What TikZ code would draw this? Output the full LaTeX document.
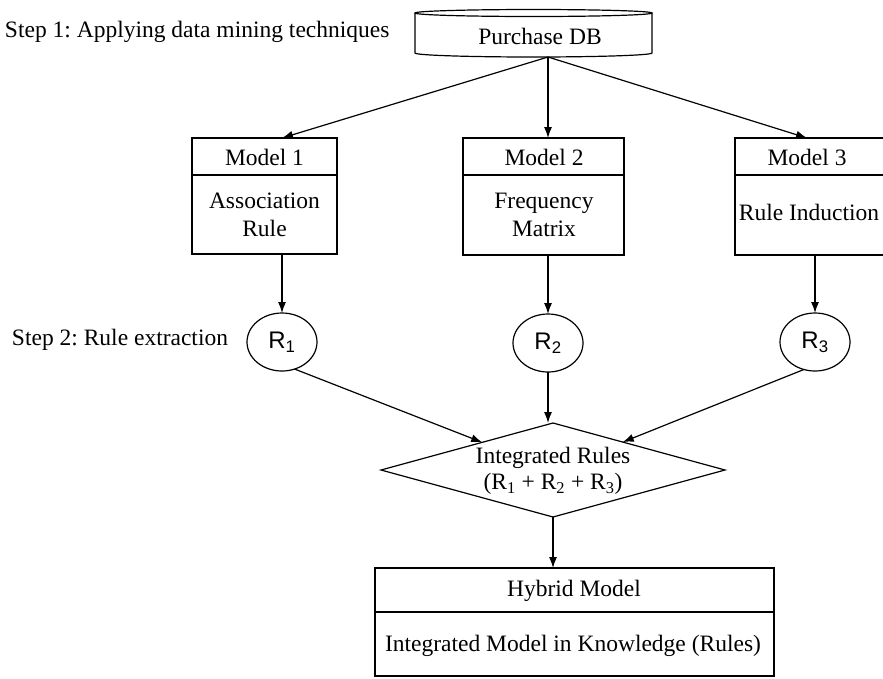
\documentclass[tikz,border=0pt]{standalone}
\usepackage{fontspec}
\setmainfont{Liberation Serif}
\newfontfamily\rfont{Liberation Sans}
\usetikzlibrary{shapes.geometric,arrows.meta,calc}
\frenchspacing
\begin{document}
\begin{tikzpicture}[x=1pt,y=-1pt,
  line width=1.2pt,
  every node/.style={font=\fontsize{23.5}{28}\selectfont, inner sep=0pt, outer sep=0pt},
  arr/.style={-{Latex[length=11pt,width=8pt]}},
  sepline/.style={line width=2.2pt},
  rnode/.style={draw, ellipse, minimum width=70pt, minimum height=58pt, font=\rfont\fontsize{24}{28}\selectfont},
  lbl/.style={anchor=base west}
]
\useasboundingbox (0,0) rectangle (883,678);

% Purchase DB cylinder
\draw (533.5,13) ellipse [x radius=118.5, y radius=3.5];
\draw (415,13) -- (415,53) arc[start angle=180, end angle=0, x radius=118.5, y radius=4] -- (652,13);
\node (db) at (540,36) {Purchase DB};
\coordinate (dbout) at (548,57);

% Step labels
\node[lbl] (s1) at (5,37) {Step 1: Applying data mining techniques};
\node[lbl] (s2) at (12,345) {Step 2: Rule extraction};

% Models
\node[draw, minimum width=145pt, minimum height=116pt] (m1) at (264.5,196) {};
\draw[sepline] ($(m1.north west)+(0,37)$) -- ($(m1.north east)+(0,37)$);
\node (m1h) at (264.5,157) {Model 1};
\node[align=center] (m1b) at (264.5,215) {Association\\Rule};

\node[draw, minimum width=161pt, minimum height=117pt] (m2) at (543.5,196.5) {};
\draw[sepline] ($(m2.north west)+(0,37)$) -- ($(m2.north east)+(0,37)$);
\node (m2h) at (544,157) {Model 2};
\node[align=center] (m2b) at (544,215) {Frequency\\Matrix};

\node[draw, minimum width=200pt, minimum height=117pt] (m3) at (835,196.5) {};
\draw[sepline] ($(m3.north west)+(0,37)$) -- ($(m3.north east)+(0,37)$);
\node (m3h) at (807,157) {Model 3};
\node (m3b) at (809,212) {Rule Induction};

% Rules
\node[rnode] (r1) at (282,342) {R\textsubscript{1}};
\node[rnode] (r2) at (548,343) {R\textsubscript{2}};
\node[rnode] (r3) at (815,342) {R\textsubscript{3}};

% Diamond
\node[draw, diamond, minimum width=344pt, minimum height=94pt] (dia) at (553,470) {};
\node[align=center, font=\fontsize{23.5}{26}\selectfont] (diat) at (553,471) {Integrated Rules\\(R\textsubscript{1} + R\textsubscript{2} + R\textsubscript{3})};

% Hybrid model
\node[draw, minimum width=399pt, minimum height=108pt] (hyb) at (574.5,622) {};
\draw ($(hyb.north west)+(0,44)$) -- ($(hyb.north east)+(0,44)$);
\node (hybh) at (574,591) {Hybrid Model};
\node (hybb) at (573,646) {Integrated Model in Knowledge (Rules)};

% Connectors
\draw[arr] (dbout) -- (r1 |- m1.north);
\draw[arr] (dbout) -- (dbout |- m2.north);
\draw[arr] (dbout) -- (m3h |- m3.north);
\draw[arr] (r1 |- m1.south) -- (r1.north);
\draw[arr] (r2 |- m2.south) -- (r2.north);
\draw[arr] (r3 |- m3.south) -- (r3.north);
\draw[arr] (r1.-65) -- (dia);
\draw[arr] (r2.south) -- (r2.south |- dia.north);
\draw[arr] (r3.-112) -- (dia);
\draw[arr] (dia.south) -- (dia.south |- hyb.north);
\end{tikzpicture}
\end{document}
